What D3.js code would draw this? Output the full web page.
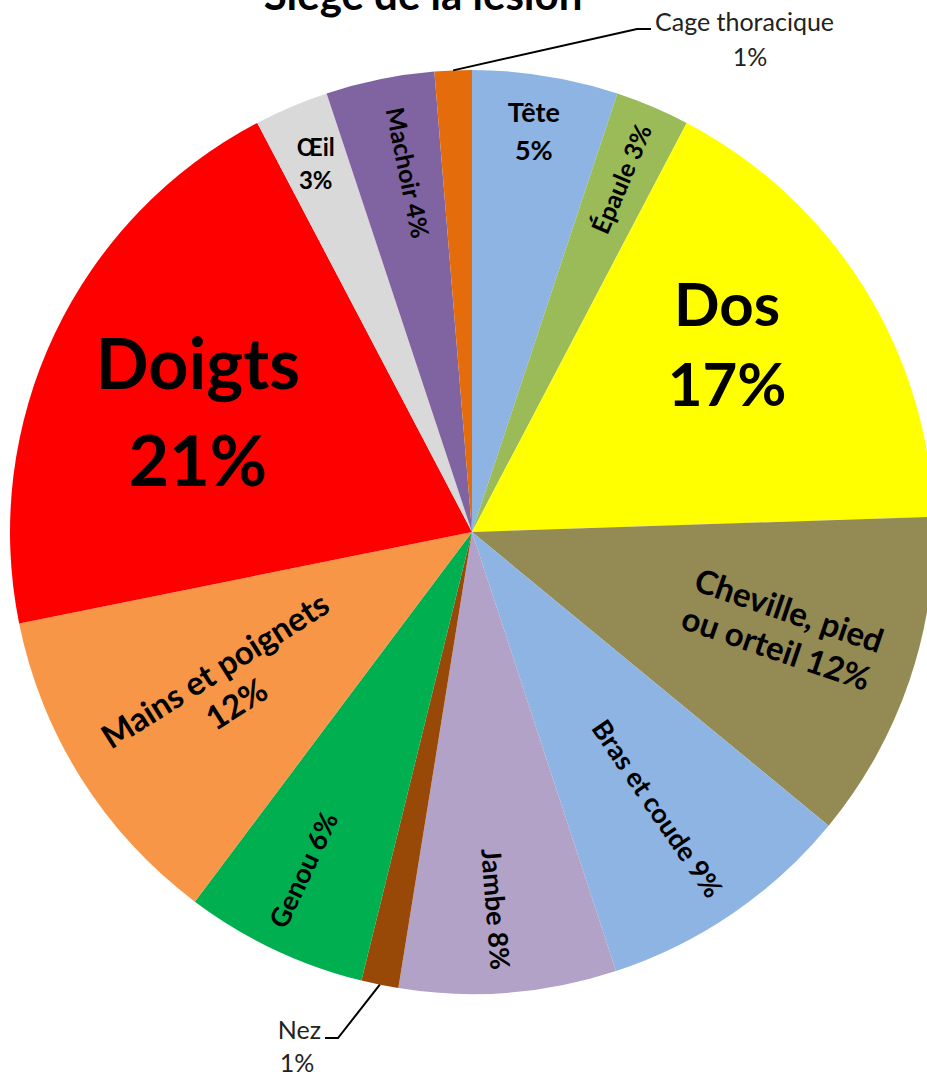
<!DOCTYPE html>
<html>
<head>
<meta charset="utf-8">
<script src="https://cdn.jsdelivr.net/npm/d3@7"></script>
<style>
  body { margin: 0; background: #fff; }
  svg { display: block; font-family: Lato, "Open Sans", sans-serif; }
</style>
</head>
<body>
<div id="pie-chart"></div>
<script>
// slices, clockwise from 12 o'clock
const categories = ["Tête", "Épaule", "Dos", "Cheville, pied ou orteil", "Bras et coude", "Jambe", "Nez",
  "Genou", "Mains et poignets", "Doigts", "Œil", "Machoir", "Cage thoracique"];
const values = [5.1, 2.6, 16.8, 11.5, 9.0, 7.6, 1.3, 6.4, 11.6, 20.5, 2.6, 3.8, 1.3];
const pctLabels = ["5%", "3%", "17%", "12%", "9%", "8%", "1%", "6%", "12%", "21%", "3%", "4%", "1%"];
const colors = ["#8EB4E3", "#9BBB59", "#FFFF00", "#948A54", "#8EB4E3", "#B3A2C7", "#984807",
  "#00B050", "#F79646", "#FF0000", "#D9D9D9", "#8064A2", "#E46C0A"];

(function pie_lesion() {

  let width = 927,
    height = 1078,
    cx = 472,
    cy = 532,
    radius = 462;

  const svg = d3.select("#pie-chart")
    .append("svg")
    .attr("width", width)
    .attr("height", height)
    .attr("viewBox", [0, 0, width, height]);

  // title is cut off by the top of the picture, as in the original
  svg.append("text")
    .attr("x", 423)
    .attr("y", 10)
    .attr("text-anchor", "middle")
    .attr("font-size", 42)
    .attr("font-weight", "bold")
    .attr("fill", "#000")
    .text("Siège de la lésion");

  let data = categories.map((c, i) => ({ name: c, value: values[i], pct: pctLabels[i], color: colors[i] }));

  let pie = d3.pie()
    .sort(null)
    .value(d => d.value);

  let arc = d3.arc()
    .innerRadius(0)
    .outerRadius(radius);

  let arcs = pie(data);

  let g = svg.append("g")
    .attr("transform", `translate(${cx},${cy})`);

  g.selectAll("path")
    .data(arcs)
    .join("path")
    .attr("fill", d => d.data.color)
    .attr("d", arc);

  // label layout: r = fraction of radius, mode = h (horizontal), out / in (along the radius)
  let layout = {
    "Tête": { r: 0.88, mode: "h", size: 27, lines: ["Tête", "5%"], lh: 38, dx: -3, dy: 1 },
    "Épaule": { r: 0.83, mode: "out", size: 25, lines: ["Épaule 3%"] },
    "Dos": { r: 0.69, mode: "h", size: 60, lines: ["Dos", "17%"], lh: 80, dx: -15, dy: -18 },
    "Cheville, pied ou orteil": { r: 0.71, mode: "out", size: 33, lines: ["Cheville, pied", "ou orteil 12%"], lh: 40, dy: -8 },
    "Bras et coude": { r: 0.71, mode: "out", size: 27, lines: ["Bras et coude 9%"], dy: 6 },
    "Jambe": { r: 0.81, mode: "out", size: 27, lines: ["Jambe 8%"], dx: -6, dy: 4 },
    "Genou": { r: 0.81, mode: "in", size: 27, lines: ["Genou 6%"], dx: -8 },
    "Mains et poignets": { r: 0.63, mode: "in", size: 33, lines: ["Mains et poignets", "12%"], lh: 40, dy: 0 },
    "Doigts": { r: 0.65, mode: "h", size: 70, lines: ["Doigts", "21%"], lh: 97, dx: -3, dy: 10 },
    "Œil": { r: 0.865, mode: "h", size: 24, lines: ["Œil", "3%"], lh: 33 },
    "Machoir": { r: 0.8, mode: "in", size: 25, lines: ["Machoir 4%"], dx: 9, dy: 3 }
  };

  for (let d of arcs) {
    let l = layout[d.data.name];
    if (!l) continue;
    let a = (d.startAngle + d.endAngle) / 2,
      deg = a * 180 / Math.PI,
      x = Math.sin(a) * radius * l.r + (l.dx || 0),
      y = -Math.cos(a) * radius * l.r + (l.dy || 0),
      rot = l.mode === "out" ? deg - 90 : l.mode === "in" ? deg - 270 : 0;

    let t = g.append("text")
      .attr("transform", `translate(${x},${y}) rotate(${rot})`)
      .attr("text-anchor", "middle")
      .attr("font-size", l.size)
      .attr("font-weight", "bold")
      .attr("fill", "#000");

    let lh = l.lh || 0,
      y0 = -(l.lines.length - 1) * lh / 2;
    l.lines.forEach((s, i) => {
      t.append("tspan")
        .attr("x", 0)
        .attr("y", y0 + i * lh)
        .attr("dy", "0.35em")
        .text(s);
    });
  }

  // outside labels with leader lines
  let callouts = {
    "Cage thoracique": { elbow: [637, 29], end: [651, 29], text: [655, 22], anchor: "start", pct: [750, 57] },
    "Nez": { elbow: [338, 1038], end: [325, 1038], text: [321, 1030], anchor: "end", pct: [297, 1063] }
  };

  for (let d of arcs) {
    let c = callouts[d.data.name];
    if (!c) continue;
    let a = (d.startAngle + d.endAngle) / 2,
      p0 = [cx + Math.sin(a) * radius, cy - Math.cos(a) * radius];

    svg.append("path")
      .attr("d", d3.line()([p0, c.elbow, c.end]))
      .attr("fill", "none")
      .attr("stroke", "#000")
      .attr("stroke-width", 2);

    svg.append("text")
      .attr("x", c.text[0])
      .attr("y", c.text[1])
      .attr("dy", "0.35em")
      .attr("text-anchor", c.anchor)
      .attr("font-size", 25)
      .attr("fill", "#222")
      .text(d.data.name);

    svg.append("text")
      .attr("x", c.pct[0])
      .attr("y", c.pct[1])
      .attr("dy", "0.35em")
      .attr("text-anchor", "middle")
      .attr("font-size", 25)
      .attr("fill", "#222")
      .text(d.data.pct);
  }

})();
</script>
</body>
</html>
